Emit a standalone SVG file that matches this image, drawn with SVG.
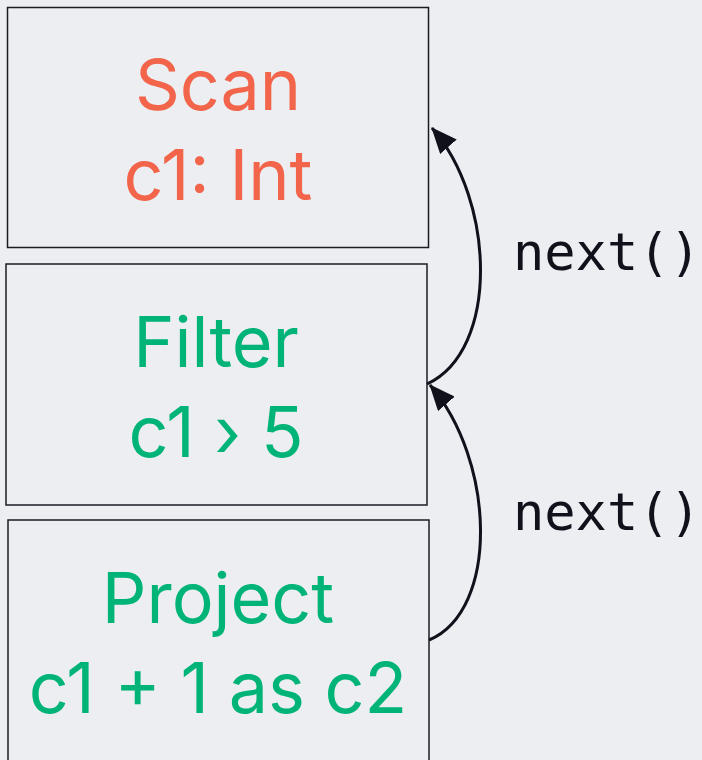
<svg xmlns="http://www.w3.org/2000/svg" width="702" height="760" viewBox="0 0 702 760">
<style>
.box{fill:#eceef2;stroke:#1b1b24;stroke-width:1.5}
.lbl{font-family:Inter,"Liberation Sans",sans-serif;font-size:70px;text-anchor:middle}
.orange{fill:#f2654a}
.green{fill:#00b377}
.edge{fill:none;stroke:#11111b;stroke-width:3}
.mono{font-family:"DejaVu Sans Mono","Liberation Mono",monospace;font-size:52px;fill:#11111b}
</style>
<defs>
<marker id="arr" viewBox="0 0 26 22" refX="25" refY="11" markerWidth="26" markerHeight="22" markerUnits="userSpaceOnUse" orient="auto">
<path d="M0,0 L26,11 L0,22 z" fill="#11111b"/>
</marker>
</defs>
<rect width="702" height="760" fill="#eceef2"/>
<g id="scan">
<rect class="box" x="7.5" y="7.5" width="421" height="240"/>
<text class="lbl orange" x="218" y="110">Scan</text>
<text class="lbl orange" x="218" y="200">c1: Int</text>
</g>
<g id="filter">
<rect class="box" x="6" y="264" width="421" height="241"/>
<text class="lbl green" x="216" y="367">Filter</text>
<text class="lbl green" x="216" y="457">c1 › 5</text>
</g>
<g id="project">
<rect class="box" x="8" y="520" width="421" height="250"/>
<text class="lbl green" x="218" y="623">Project</text>
<text class="lbl green" x="218" y="713">c1 + 1 as c2</text>
</g>
<g id="connectors">
<path class="edge" d="M427,384 C500,350 495,200 432,128" marker-end="url(#arr)"/>
<path class="edge" d="M429,640 C500,610 495,460 430,385" marker-end="url(#arr)"/>
</g>
<g id="labels">
<text class="mono" x="513" y="270">next()</text>
<text class="mono" x="513" y="530">next()</text>
</g>
</svg>
